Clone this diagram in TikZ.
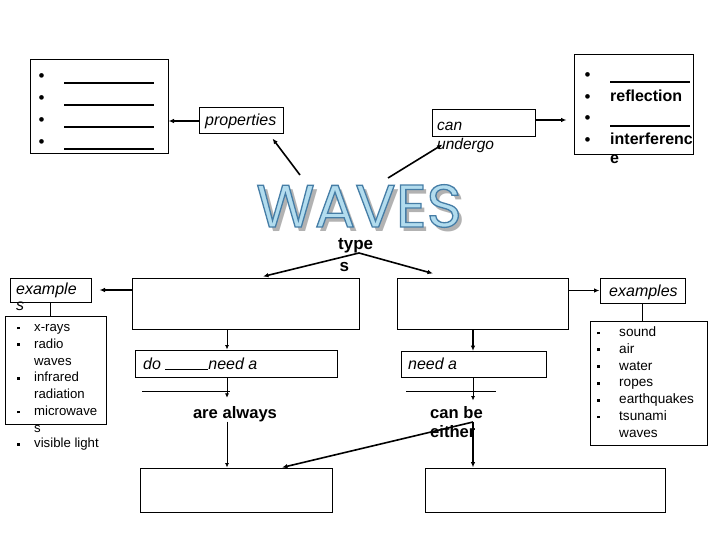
\documentclass[tikz,border=0pt]{standalone}
\usepackage{fontspec}
\setmainfont{Liberation Sans}
\newfontfamily\wavesfont{Poppins}
\usepackage{tikz}
\usetikzlibrary{positioning,arrows.meta}

\definecolor{wavefill}{RGB}{178,220,238}
\definecolor{waveshadow}{RGB}{178,178,178}
\newcommand{\fsz}[2]{\fontsize{#1}{#2}\selectfont}
\newcommand{\sqbul}{\raisebox{2.1pt}{\rule{2.8pt}{2.8pt}}}
\newcommand{\lobul}{\raisebox{-4.6pt}{\fsz{17}{17}\textbullet}}
\newcommand{\hibul}{\raisebox{-1pt}{\fsz{17}{17}\mdseries\textbullet}}
\newcommand{\outlined}[1]{\special{pdf:literal direct 2 Tr 1.3 w 0.27 0.49 0.65 RG}#1\special{pdf:literal direct 0 Tr}}

\begin{document}
\begin{tikzpicture}[x=1pt,y=-1pt,
  box/.style={draw,line width=1pt,inner sep=0pt},
  txt/.style={inner sep=0pt,anchor=base west},
  lbl/.style={txt,font=\fsz{16}{19}\itshape},
  big/.style={inner sep=0pt,font=\fsz{16.6}{19}\bfseries},
  conn/.style={-{Latex[length=5.5pt,width=4.5pt]},line width=1.6pt},
  thinconn/.style={-{Latex[length=4.5pt,width=4pt]},line width=0.8pt},
  link/.style={line width=1.6pt}]
\fill[white] (0,0) rectangle (720,540);
\useasboundingbox (0,0) rectangle (720,540);
% title
\node[inner sep=0pt,font=\wavesfont\fsz{60}{60},text=waveshadow] (wavesshadow) at (363,211) {WAVES};
\node[inner sep=0pt,font=\wavesfont\fsz{60}{60},text=wavefill] (waves) at (359,206) {\outlined{WAVES}};
\coordinate (wavl) at (300,175);
\coordinate (wavr) at (388,178);
% top row
\node[box,minimum width=138pt,minimum height=94pt] (proplist) at (99,107) {};
\node[txt,font=\fsz{9}{22}] (propitems) at (38.5,77.2) {\begin{tabular}[t]{@{}p{25.5pt}@{}l@{}}
\lobul & \rule[-6.5pt]{90pt}{1.8pt}\\
\lobul & \rule[-6.5pt]{90pt}{1.8pt}\\
\lobul & \rule[-6.5pt]{90pt}{1.8pt}\\
\lobul & \rule[-6.5pt]{90pt}{1.8pt}\end{tabular}};
\node[box,minimum width=84pt,minimum height=26pt] (props) at (241,121) {};
\node[lbl] (propstxt) at (205,126) {properties};
\node[box,minimum width=103pt,minimum height=27pt] (undergo) at (483.5,123.5) {};
\node[txt,font=\fsz{15.5}{19}\itshape] (undergotxt) at (437,130.5) {\begin{tabular}[t]{@{}l@{}}can\\undergo\end{tabular}};
\node[box,minimum width=119pt,minimum height=100pt] (effects) at (633.5,105) {};
\node[txt,font=\fsz{16}{21.7}\bfseries] (effectitems) at (584.5,79.5) {\begin{tabular}[t]{@{}p{25.5pt}@{}l@{}}
\hibul & \rule[-3.8pt]{80pt}{1.8pt}\\
\hibul & reflection\\
\hibul & \rule[-3.8pt]{80pt}{1.8pt}\\
\hibul & interferenc\\[-3pt]
 & e\end{tabular}};
\draw[conn] (props.west) -- (props.west -| proplist.east);
\draw[conn] (wavl) -- ([shift={(-11,4)}]props.south east);
\draw[conn] (wavr) -- ([shift={(11,7)}]undergo.south west);
\draw[conn] ([yshift=3.5pt]undergo.east) -- ([yshift=-15pt,xshift=-7pt]effects.west);
% types
\node[txt,font=\fsz{17}{22}\bfseries] (typelbl) at (338,249) {\begin{tabular}[t]{@{}l@{}}type\\\hspace{1.5pt}s\end{tabular}};
\coordinate (typefork) at (359,253);
\node[box,minimum width=227pt,minimum height=51pt] (emtype) at (245.5,303.5) {};
\node[box,minimum width=171pt,minimum height=51pt] (mechtype) at (482.5,303.5) {};
\draw[conn] (typefork) -- ([xshift=17.5pt,yshift=1pt]emtype.north);
\draw[conn] (typefork) -- ([xshift=-49.5pt,yshift=4pt]mechtype.north);
% examples, left
\node[box,minimum width=81pt,minimum height=24pt] (emex) at (50.5,290) {};
\node[txt,font=\fsz{16}{15.5}\itshape] (emextxt) at (16,294.5) {\begin{tabular}[t]{@{}l@{}}example\\s\end{tabular}};
\node[box,minimum width=100.5pt,minimum height=108pt] (emlist) at (55.75,370.5) {};
\node[txt,font=\fsz{13.2}{16.8}] (emitems) at (16.5,331.5) {\begin{tabular}[t]{@{}p{17.5pt}@{}l@{}}
\sqbul & x-rays\\
\sqbul & radio\\
 & waves\\
\sqbul & infrared\\
 & radiation\\
\sqbul & microwave\\
 & s\\[-1.5pt]
\sqbul & visible light\end{tabular}};
\draw[conn,shorten >=8pt] (emtype.west |- emex.east) -- (emex.east);
\draw[link] (emex.south) -- (emex.south |- emlist.north);
% examples, right
\node[box,minimum width=85pt,minimum height=25pt] (mechex) at (642.5,290.5) {};
\node[lbl] (mechextxt) at (609,296.5) {examples};
\node[box,minimum width=117pt,minimum height=124pt] (mechlist) at (648.5,383) {};
\node[txt,font=\fsz{13.6}{16.8}] (mechitems) at (596.6,336.5) {\begin{tabular}[t]{@{}p{22.4pt}@{}l@{}}
\sqbul & sound\\
\sqbul & air\\
\sqbul & water\\
\sqbul & ropes\\
\sqbul & earthquakes\\
\sqbul & tsunami\\
 & waves\end{tabular}};
\draw[conn] (mechtype.east |- mechex.west) -- (mechex.west);
\draw[link] (mechex.south) -- (mechex.south |- mechlist.north);
% medium
\coordinate (lcol) at (227,0);
\coordinate (rcol) at (473,0);
\node[box,minimum width=202pt,minimum height=27pt] (emmed) at (236,363.5) {};
\node[txt,font=\fsz{16}{22.5}\itshape] (emmedtxt) at (143,369.5) {\begin{tabular}[t]{@{}l@{}}do \rule{43pt}{0.8pt}need a\\\hspace*{-1pt}\rule{88pt}{0.8pt}\end{tabular}};
\node[box,minimum width=145pt,minimum height=26pt] (mechmed) at (473.5,364.5) {};
\node[txt,font=\fsz{16}{22.5}\itshape] (mechmedtxt) at (408,369.5) {\begin{tabular}[t]{@{}l@{}}need a\\\hspace*{-2pt}\rule{90pt}{0.8pt}\end{tabular}};
\draw[thinconn] (emtype.south -| lcol) -- (emmed.north -| lcol);
\draw[conn] (mechtype.south -| rcol) -- (mechmed.north -| rcol);
% bottom
\node[big,anchor=base] (always) at (235,418) {are always};
\node[big,anchor=base west] (canbe) at (430,418) {\begin{tabular}[t]{@{}l@{}}can be\\either\end{tabular}};
\node[box,minimum width=192pt,minimum height=44pt] (transv) at (236,490) {};
\node[box,minimum width=240pt,minimum height=44pt] (longtr) at (545,490) {};
\draw[thinconn,shorten >=8pt] (emmed.south -| lcol) -- (always.north -| lcol);
\draw[thinconn] (always.south -| lcol) -- (transv.north -| lcol);
\draw[thinconn,shorten >=4pt] (mechmed.south -| rcol) -- (canbe.north -| rcol);
\coordinate (fork) at (473,422);
\draw[conn] (fork) -- (longtr.north -| fork);
\draw[conn] (fork) -- ([xshift=46pt]transv.north);
\end{tikzpicture}
\end{document}
